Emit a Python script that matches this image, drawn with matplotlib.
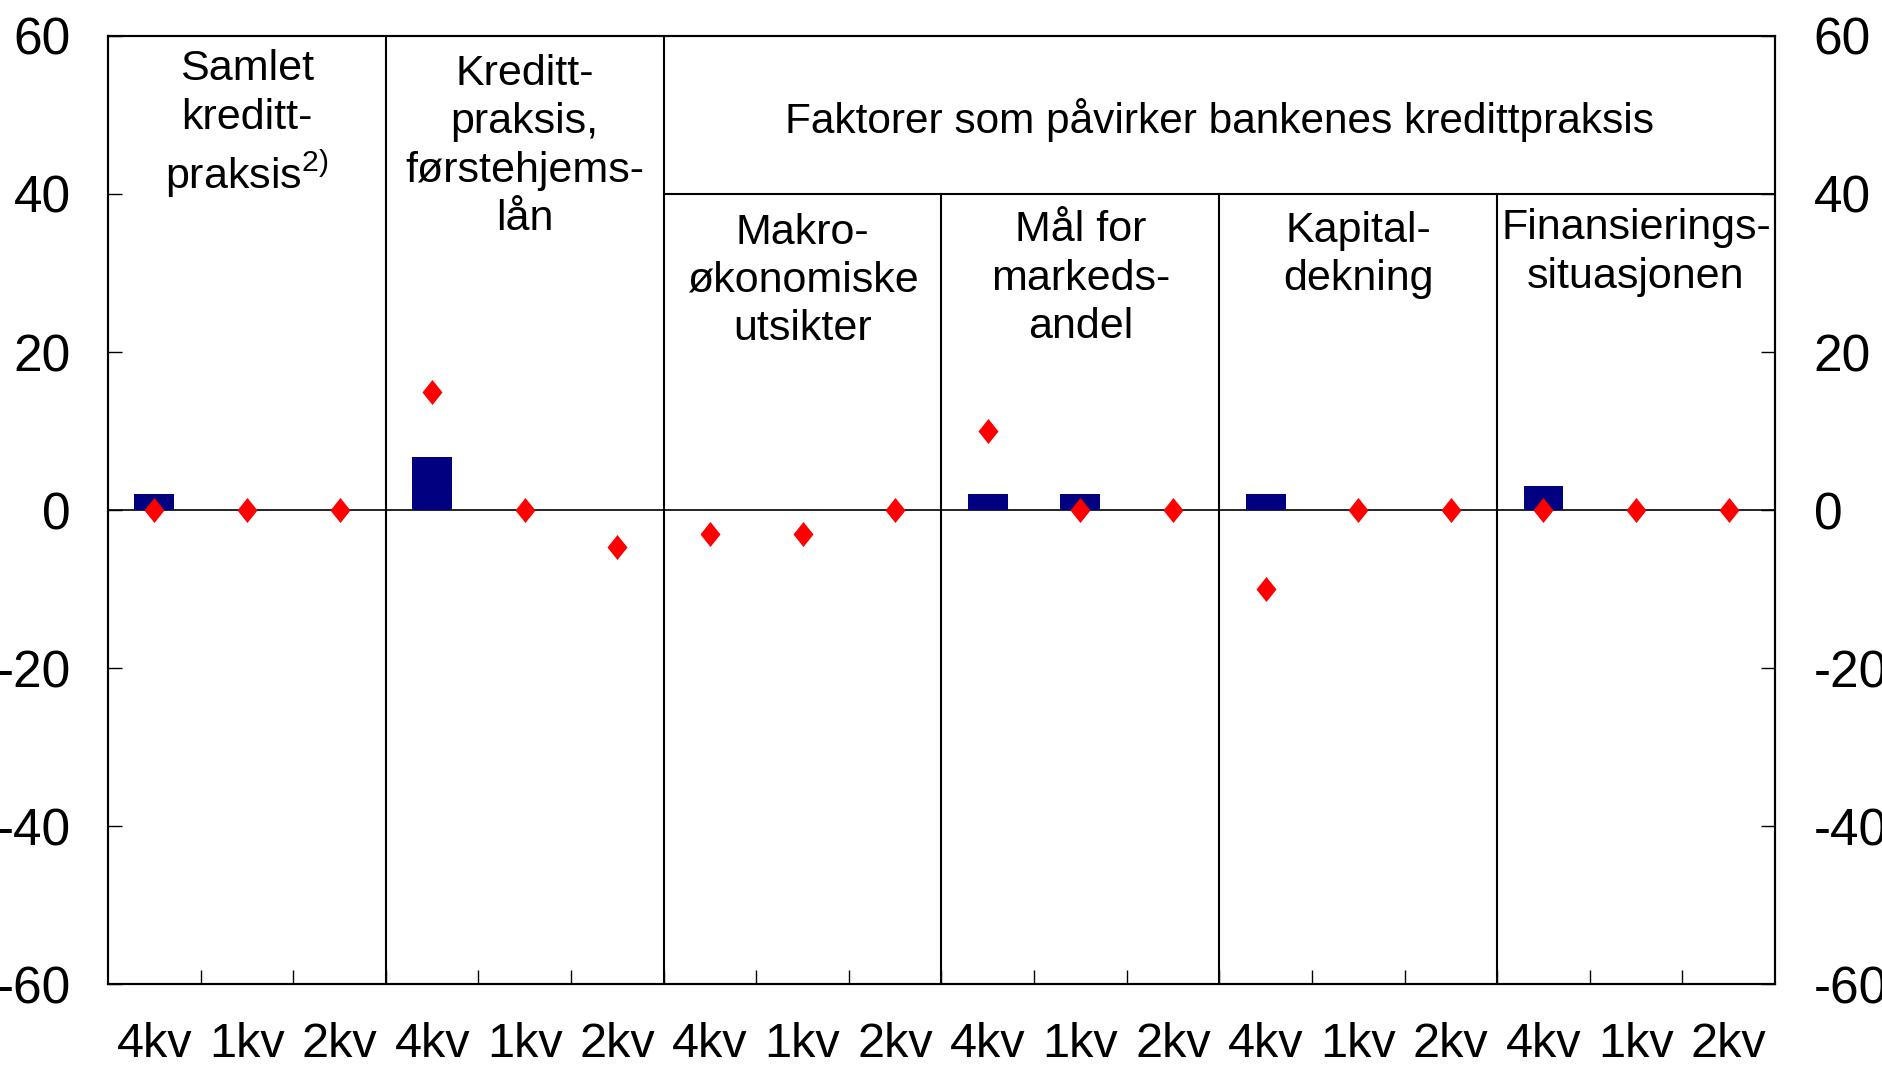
import numpy as np
import matplotlib
matplotlib.use("Agg")
import matplotlib.pyplot as plt

plt.rcParams['font.family'] = ['Liberation Sans', 'DejaVu Sans']
plt.rcParams['mathtext.fontset'] = 'custom'
plt.rcParams['mathtext.rm'] = 'Liberation Sans'
plt.rcParams['mathtext.default'] = 'regular'
plt.rcParams['axes.unicode_minus'] = False

quarters = ['4kv', '1kv', '2kv']
group_labels = ['Samlet\nkreditt-\npraksis$^{2)}$',
                'Kreditt-\npraksis,\nførstehjems-\nlån',
                'Makro-\nøkonomiske\nutsikter',
                'Mål for\nmarkeds-\nandel',
                'Kapital-\ndekning',
                'Finansierings-\nsituasjonen']
header = 'Faktorer som påvirker bankenes kredittpraksis'

# bars (navy) and diamonds (red), 3 per group
bar_vals = [2, 0, 0, 6.7, 0, 0, 0, 0, 0, 2, 2, 0, 2, 0, 0, 3, 0, 0]
dot_vals = [0, 0, 0, 15, 0, -4.7, -3, -3, 0, 10, 0, 0, -10, 0, 0, 0, 0, 0]

label_y = [48.8, 46.0, 29.0, 29.3, 32.3, 32.6]

n = len(bar_vals)
x = np.arange(n)

fig = plt.figure(figsize=(18.83, 10.67), dpi=100)
ax = fig.add_axes([0.0574, 0.0776, 0.8852, 0.8887])

ax.bar(x, bar_vals, width=0.43, color='#000080', zorder=2)
diamond = [(0, 1), (0.8, 0), (0, -1), (-0.8, 0), (0, 1)]
ax.plot(x, dot_vals, linestyle='none', marker=diamond, markersize=18,
        color='#ff0000', markeredgewidth=0, zorder=3)

ax.axhline(0, color='black', lw=1.2, zorder=1)
ax.set_xlim(-0.5, n - 0.5)
ax.set_ylim(-60, 60)

# group separators
for g in range(1, 6):
    xb = 3 * g - 0.5
    ymax = 60 if g <= 2 else 40
    ax.plot([xb, xb], [-60, ymax], color='black', lw=1.5, zorder=1)
ax.plot([5.5, n - 0.5], [40, 40], color='black', lw=1.5, zorder=1)

for g, lab in enumerate(group_labels):
    ax.text(3 * g + 1, label_y[g], lab, ha='center', va='center',
            fontsize=31, linespacing=1.27)
ax.text(11.5, 49.4, header, ha='center', va='center', fontsize=30.5)

ax.set_yticks(np.arange(-60, 61, 20))
ax.tick_params(axis='y', direction='in', length=10, width=1, labelsize=37, pad=27)
ax.set_xticks(x)
ax.set_xticklabels(quarters * 6)
ax.set_xticks(np.arange(0.5, n - 1, 1), minor=True)
ax.tick_params(axis='x', which='major', length=0, labelsize=35, pad=27)
ax.tick_params(axis='x', which='minor', direction='in', length=10, width=1)

ax2 = ax.twinx()
ax2.set_ylim(-60, 60)
ax2.set_yticks(np.arange(-60, 61, 20))
ax2.tick_params(axis='y', direction='in', length=10, width=1, labelsize=37, pad=28)

for a in (ax, ax2):
    for s in a.spines.values():
        s.set_linewidth(1.5)

fig.savefig('out.png', dpi=100)
